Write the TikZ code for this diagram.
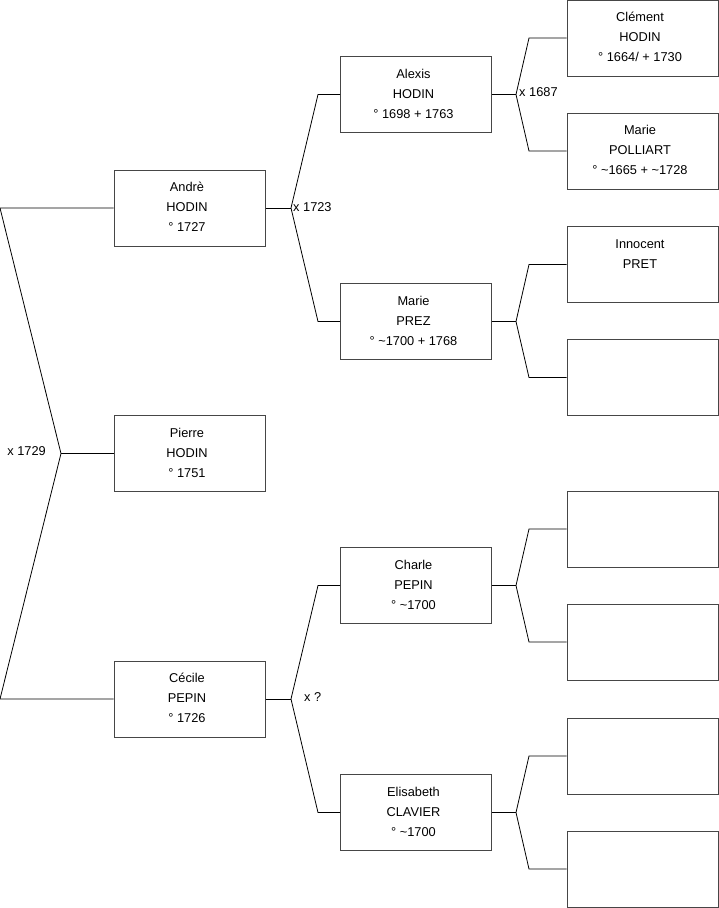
\documentclass[tikz,border=0pt]{standalone}
\usepackage{fontspec}
\setmainfont{Liberation Sans}
\definecolor{boxgray}{RGB}{70,70,70}
\newcommand\personbox[4]{%
  \node[pbox] (#1) at (#2,#3) {};
  \node[ptxt, anchor=base] (#1-t) at ([xshift=-2.5pt,yshift=-23.5pt]#1.center) {#4};}
\begin{document}
\begin{tikzpicture}[x=1pt,y=-1pt,
  pbox/.style={draw=boxgray, line width=1pt, minimum width=151pt, minimum height=76pt, inner sep=0pt},
  ptxt/.style={inner sep=0pt, align=center, font=\fontsize{12.8}{20}\selectfont},
  link/.style={draw=black, line width=0.8pt},
  lbl/.style={font=\fontsize{12.8}{14}\selectfont, inner sep=0pt}]
\useasboundingbox (0,0) rectangle (719,908);
% generation 1
\personbox{pierre}{189.5}{453.5}{Pierre\\HODIN\\° 1751}
% generation 2
\personbox{andre}{189.5}{208}{Andrè\\HODIN\\° 1727}
\personbox{cecile}{189.5}{699}{Cécile\\PEPIN\\° 1726}
% generation 3
\personbox{alexis}{416}{94.5}{Alexis\\HODIN\\° 1698 + 1763}
\personbox{prez}{416}{321.5}{Marie\\PREZ\\° \textasciitilde1700 + 1768}
\personbox{charle}{416}{585.5}{Charle\\PEPIN\\° \textasciitilde1700}
\personbox{elisabeth}{416}{812.5}{Elisabeth\\CLAVIER\\° \textasciitilde1700}
% generation 4
\personbox{clement}{642.5}{38}{Clément\\HODIN\\° 1664/ + 1730}
\personbox{polliart}{642.5}{151}{Marie\\POLLIART\\° \textasciitilde1665 + \textasciitilde1728}
\personbox{innocent}{642.5}{264.5}{Innocent\\PRET\\\mbox{}}
\node[pbox] (e1) at (642.5,377.5) {};
\node[pbox] (e2) at (642.5,529) {};
\node[pbox] (e3) at (642.5,642) {};
\node[pbox] (e4) at (642.5,756) {};
\node[pbox] (e5) at (642.5,869) {};
% left fork
\coordinate (l1) at (0,208);
\coordinate (l2) at (0,699);
\coordinate (v0) at (61,453.5);
\draw[link] (andre.west) -- (l1) -- (v0) -- (l2) -- (cecile.west);
\draw[link] (v0) -- (pierre.west);
\node[lbl, anchor=east] (m0) at (46,451) {x 1729};
% Andre fork
\coordinate (v1) at (291,208);
\coordinate (a1) at (318,94.5);
\coordinate (a2) at (318,321.5);
\draw[link] (andre.east) -- (v1);
\draw[link] (alexis.west) -- (a1) -- (v1) -- (a2) -- (prez.west);
\node[lbl, anchor=west] (m1) at (293,207) {x 1723};
% Cecile fork
\coordinate (v2) at (291,699);
\coordinate (c1) at (318,585.5);
\coordinate (c2) at (318,812.5);
\draw[link] (cecile.east) -- (v2);
\draw[link] (charle.west) -- (c1) -- (v2) -- (c2) -- (elisabeth.west);
\node[lbl, anchor=west] (m2) at (304,697) {x ?};
% Alexis fork
\coordinate (v3) at (516,94.5);
\coordinate (b1) at (529,38);
\coordinate (b2) at (529,151);
\draw[link] (alexis.east) -- (v3);
\draw[link] (clement.west) -- (b1) -- (v3) -- (b2) -- (polliart.west);
\node[lbl, anchor=west] (m3) at (519,92) {x 1687};
% Prez fork
\coordinate (v4) at (516,321.5);
\coordinate (p1) at (529,264.5);
\coordinate (p2) at (529,377.5);
\draw[link] (prez.east) -- (v4);
\draw[link] (innocent.west) -- (p1) -- (v4) -- (p2) -- (e1.west);
% Charle fork
\coordinate (v5) at (516,585.5);
\coordinate (q1) at (529,529);
\coordinate (q2) at (529,642);
\draw[link] (charle.east) -- (v5);
\draw[link] (e2.west) -- (q1) -- (v5) -- (q2) -- (e3.west);
% Elisabeth fork
\coordinate (v6) at (516,812.5);
\coordinate (r1) at (529,756);
\coordinate (r2) at (529,869);
\draw[link] (elisabeth.east) -- (v6);
\draw[link] (e4.west) -- (r1) -- (v6) -- (r2) -- (e5.west);
\end{tikzpicture}
\end{document}
